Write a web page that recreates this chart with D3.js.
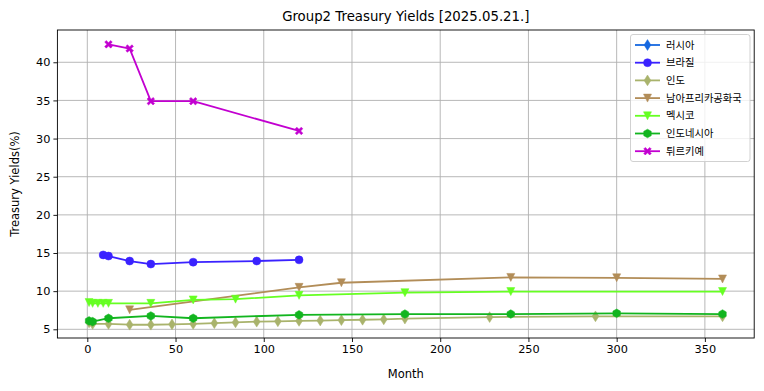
<!DOCTYPE html>
<html><head><meta charset="utf-8">
<script src="https://cdn.jsdelivr.net/npm/d3@7"></script>
<style>body{margin:0;background:#fff}svg{display:block}</style>
</head><body>
<script>
// ---- data ----
const seriesNames = ["러시아","브라질","인도","남아프리카공화국","멕시코","인도네시아","튀르키예"];
const seriesColors = ["#1668e0","#3a22ff","#a9b36c","#b28d58","#66ff22","#12b51f","#c200d0"];
const seriesMarkers = ["d","o","d","v","v","h","X"];
const russiaMonths = [];
const russiaYields = [];
const brazilMonths = [9,12,24,36,60,96,120];
const brazilYields = [14.75,14.6,13.95,13.55,13.8,13.95,14.1];
const indiaMonths = [1,3,12,24,36,48,60,72,84,96,108,120,132,144,156,168,180,228,288,360];
const indiaYields = [5.9,5.7,5.7,5.6,5.6,5.65,5.7,5.8,5.9,6.0,6.05,6.1,6.15,6.2,6.25,6.3,6.4,6.6,6.7,6.7];
const safMonths = [24,120,144,240,300,360];
const safYields = [7.55,10.5,11.1,11.8,11.75,11.6];
const mexicoMonths = [1,3,6,9,12,36,60,84,120,180,240,360];
const mexicoYields = [8.5,8.4,8.4,8.4,8.4,8.4,8.85,8.95,9.45,9.8,9.95,9.95];
const indonesiaMonths = [1,3,12,36,60,120,180,240,300,360];
const indonesiaYields = [6.1,6.0,6.45,6.75,6.45,6.9,7.0,7.0,7.1,7.0];
const turkeyMonths = [12,24,36,60,120];
const turkeyYields = [42.35,41.8,34.9,34.9,31.0];
const xTicks = [0,50,100,150,200,250,300,350];
const yTicks = [5,10,15,20,25,30,35,40];
const titleText = "Group2 Treasury Yields [2025.05.21.]";
const xLabel = "Month";
const yLabel = "Treasury Yields(%)";

const allMonths = [russiaMonths,brazilMonths,indiaMonths,safMonths,mexicoMonths,indonesiaMonths,turkeyMonths];
const allYields = [russiaYields,brazilYields,indiaYields,safYields,mexicoYields,indonesiaYields,turkeyYields];

// ---- layout ----
const W=764,H=391;
const L=57.4,R=754.2,T=30,B=338;
const svg=d3.select("body").append("svg").attr("width",W).attr("height",H)
  .style("font-family","'DejaVu Sans', sans-serif");

const x=d3.scaleLinear().domain([-16.95,377.95]).range([L,R]);
const y=d3.scaleLinear().domain([3.86,44.23]).range([B,T]);

// grid
const g=svg.append("g");
g.selectAll(".gx").data(xTicks).join("line")
  .attr("x1",d=>x(d)).attr("x2",d=>x(d)).attr("y1",T).attr("y2",B)
  .attr("stroke","#b0b0b0").attr("stroke-width",0.9);
g.selectAll(".gy").data(yTicks).join("line")
  .attr("y1",d=>y(d)).attr("y2",d=>y(d)).attr("x1",L).attr("x2",R)
  .attr("stroke","#b0b0b0").attr("stroke-width",0.9);

// axes
const xa=svg.append("g").attr("transform",`translate(0,${B})`)
  .call(d3.axisBottom(x).tickValues(xTicks).tickSize(4).tickPadding(3).tickSizeOuter(0));
const ya=svg.append("g").attr("transform",`translate(${L},0)`)
  .call(d3.axisLeft(y).tickValues(yTicks).tickSize(4).tickPadding(3).tickSizeOuter(0));
[xa,ya].forEach(a=>{
  a.select(".domain").remove();
  a.selectAll("text").attr("font-size","11.3px").attr("fill","#000").attr("font-family","'DejaVu Sans', sans-serif");
  a.selectAll("line").attr("stroke","#000").attr("stroke-width",0.9);
});
svg.append("rect").attr("x",L).attr("y",T).attr("width",R-L).attr("height",B-T)
  .attr("fill","none").attr("stroke","#000").attr("stroke-width",0.9);

// markers
function markerPath(type,s){
  const r=s/2;
  if(type==="o") return d3.symbol(d3.symbolCircle, Math.PI*r*r)();
  if(type==="d") return `M0,${-r*1.35}L${r*0.85},0L0,${r*1.35}L${-r*0.85},0Z`;
  if(type==="v") return `M${-r},${-r}L${r},${-r}L0,${r}Z`;
  if(type==="h"){ const rr=r*1.08; let p=""; for(let i=0;i<6;i++){const a=Math.PI/3*i-Math.PI/2; p+=(i?"L":"M")+(rr*Math.cos(a)).toFixed(2)+","+(rr*Math.sin(a)).toFixed(2);} return p+"Z"; }
  if(type==="X"){ const a=r*0.95,b=r*0.4; return `M${-a+b},${-a}L0,${-b}L${a-b},${-a}L${a},${-a+b}L${b},0L${a},${a-b}L${a-b},${a}L0,${b}L${-a+b},${a}L${-a},${a-b}L${-b},0L${-a},${-a+b}Z`; }
}
const line=d3.line().x(d=>x(d[0])).y(d=>y(d[1]));
seriesNames.forEach((n,i)=>{
  const pts=allMonths[i].map((m,j)=>[m,allYields[i][j]]);
  const sg=svg.append("g");
  sg.append("path").datum(pts).attr("d",line).attr("fill","none")
    .attr("stroke",seriesColors[i]).attr("stroke-width",1.8).attr("stroke-linejoin","round");
  sg.selectAll("path.m").data(pts).join("path").attr("class","m")
    .attr("d",markerPath(seriesMarkers[i],8))
    .attr("transform",d=>`translate(${x(d[0])},${y(d[1])})`)
    .attr("fill",seriesColors[i]).attr("stroke",seriesColors[i]).attr("stroke-width",0.5);
});

// title and labels
svg.append("text").attr("x",(L+R)/2).attr("y",21).attr("text-anchor","middle")
  .attr("font-size","13.3px").text(titleText);
svg.append("text").attr("x",(L+R)/2).attr("y",378).attr("text-anchor","middle")
  .attr("font-size","11.5px").text(xLabel);
svg.append("text").attr("transform",`translate(19,${(T+B)/2}) rotate(-90)`).attr("text-anchor","middle")
  .attr("font-size","11.5px").text(yLabel);

// legend
const lg=svg.append("g");
lg.append("rect").attr("x",630.5).attr("y",34.5).attr("width",119.5).attr("height",127)
  .attr("rx",2.5).attr("fill","#fff").attr("fill-opacity",0.8).attr("stroke","#cccccc").attr("stroke-width",0.9);
seriesNames.forEach((n,i)=>{
  const yy=45+i*17.7;
  lg.append("line").attr("x1",635).attr("x2",660).attr("y1",yy).attr("y2",yy)
    .attr("stroke",seriesColors[i]).attr("stroke-width",1.8);
  lg.append("path").attr("d",markerPath(seriesMarkers[i],8)).attr("transform",`translate(647.5,${yy})`)
    .attr("fill",seriesColors[i]).attr("stroke",seriesColors[i]).attr("stroke-width",0.5);
  lg.append("text").attr("x",666).attr("y",yy+3.5).attr("font-size","10.3px")
    .attr("font-family","'Noto Sans CJK KR', sans-serif").text(n);
});
</script>
</body></html>
